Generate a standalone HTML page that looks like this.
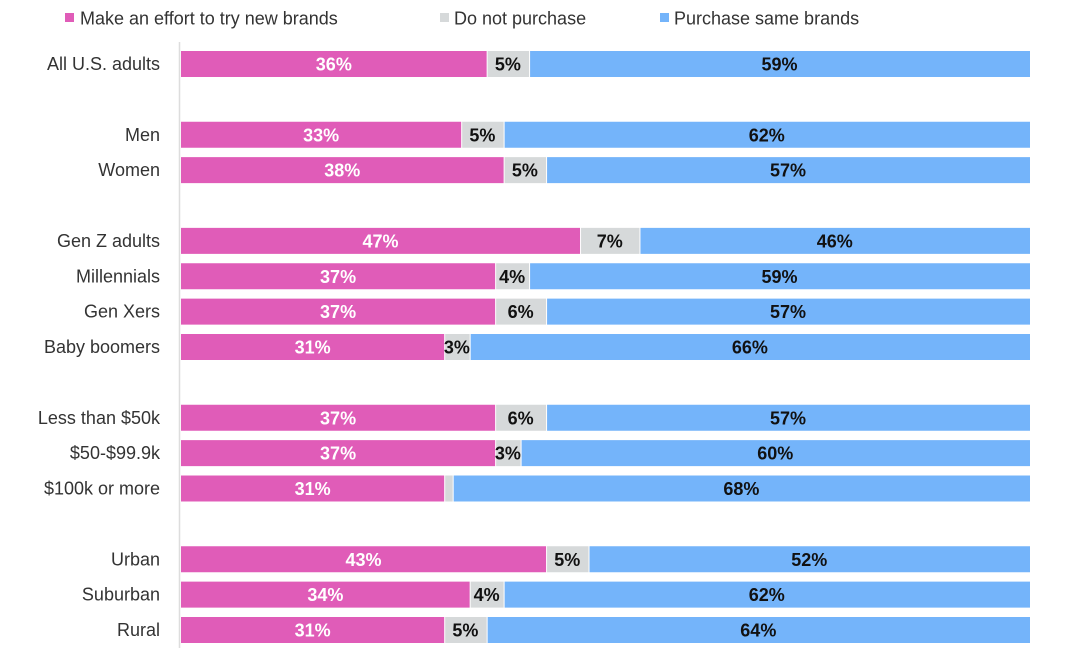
<!DOCTYPE html>
<html><head><meta charset="utf-8"><style>
body{margin:0;background:#fff;width:1078px;height:664px;overflow:hidden;font-family:"Liberation Sans",sans-serif;}
</style></head><body>
<svg id="chart" width="1078" height="664" xmlns="http://www.w3.org/2000/svg">
<g font-size="18" fill="#333">
<g><rect x="65" y="13" width="9" height="9" fill="#e05cb8"/><text x="80" y="24.5">Make an effort to try new brands</text></g>
<g><rect x="440" y="13" width="9" height="9" fill="#d6d9da"/><text x="454" y="24.5">Do not purchase</text></g>
<g><rect x="660" y="13" width="9" height="9" fill="#74b4fa"/><text x="674" y="24.5">Purchase same brands</text></g>
</g>
<line x1="179.5" y1="42" x2="179.5" y2="648" stroke="#ddd" stroke-width="1.5"/>
<g id="bars"></g>
</svg>
<script>
const categories=["All U.S. adults","Men","Women","Gen Z adults","Millennials","Gen Xers","Baby boomers","Less than $50k","$50-$99.9k","$100k or more","Urban","Suburban","Rural"];
const slots=[0,2,3,5,6,7,8,10,11,12,14,15,16];
const newBrands=[36,33,38,47,37,37,31,37,37,31,43,34,31];
const doNot=[5,5,5,7,4,6,3,6,3,1,5,4,5];
const same=[59,62,57,46,59,57,66,57,60,68,52,62,64];
const showLabel=[[1,1,1],[1,1,1],[1,1,1],[1,1,1],[1,1,1],[1,1,1],[1,1,1],[1,1,1],[1,1,1],[1,0,1],[1,1,1],[1,1,1],[1,1,1]];
const x0=181,x1=1030,yTop=64,slotH=35.375,barH=26;
const xs=v=>x0+(x1-x0)*v/100;
const yc=s=>yTop+s*slotH;
const NS="http://www.w3.org/2000/svg";
const g=document.getElementById('bars');
const series=[[newBrands,"#e05cb8","#fff","new-brands"],[doNot,"#d6d9da","#111","do-not-purchase"],[same,"#74b4fa","#111","same-brands"]];
categories.forEach((c,i)=>{
  const y=yc(slots[i]);
  const t=document.createElementNS(NS,'text');
  
  
  t.setAttribute('x',160);t.setAttribute('y',y+6);t.setAttribute('text-anchor','end');
  t.setAttribute('font-size','18');t.setAttribute('fill','#333');t.textContent=c;g.appendChild(t);
  let acc=0;
  series.forEach((s,k)=>{
    const v=s[0][i];const a=xs(acc),b=xs(acc+v);
    const r=document.createElementNS(NS,'rect');
    
    
    r.setAttribute('x',a+(k?1:0));r.setAttribute('y',y-barH/2);
    r.setAttribute('width',Math.max(0,b-a-(k?1:0)));r.setAttribute('height',barH);r.setAttribute('fill',s[1]);g.appendChild(r);
    if(showLabel[i][k]){
      const l=document.createElementNS(NS,'text');
      
      
      l.setAttribute('x',(a+b)/2);l.setAttribute('y',y+6.5);l.setAttribute('text-anchor','middle');
      l.setAttribute('font-size','18');l.setAttribute('font-weight','bold');l.setAttribute('fill',s[2]);
      l.textContent=v+'%';g.appendChild(l);
    }
    acc+=v;
  });
});
</script>
</body></html>
